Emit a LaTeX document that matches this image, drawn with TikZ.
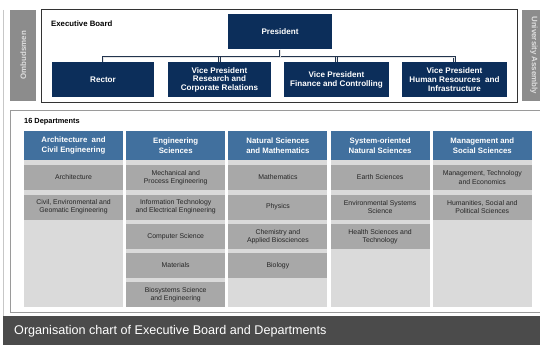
\documentclass[tikz,border=0pt]{standalone}
\usepackage{fontspec}
\setmainfont{Liberation Sans}
\definecolor{navy}{HTML}{0C2E5A}
\definecolor{connc}{HTML}{22344E}
\definecolor{headblue}{HTML}{41709E}
\definecolor{itemgray}{HTML}{A8A8A8}
\definecolor{colgray}{HTML}{DADADA}
\definecolor{sidegray}{HTML}{8C8C8C}
\definecolor{sidetext}{HTML}{DEDEDE}
\definecolor{itemtext}{HTML}{262626}
\definecolor{captiongray}{HTML}{4B4B4B}
\definecolor{framegray}{HTML}{333333}
\definecolor{deptframe}{HTML}{9A9A9A}
\begin{document}
\begin{tikzpicture}[x=1pt,y=-1pt,
  exec/.style={fill=navy, text=white, font=\fontsize{8.1}{8.8}\selectfont\bfseries,
    align=center, minimum height=35pt, inner sep=0pt},
  conn/.style={draw=connc, line width=0.6pt, double=white!90!black, double distance=0.9pt},
  sidebox/.style={fill=sidegray, text=sidetext, font=\fontsize{7.9}{9}\selectfont\bfseries,
    inner sep=0pt, minimum height=25.5pt},
  colbg/.style={fill=colgray, minimum width=99pt, minimum height=176pt, inner sep=0pt},
  head/.style={fill=headblue, text=white, font=\fontsize{7.8}{10}\selectfont\bfseries,
    align=center, minimum width=99pt, minimum height=29pt, inner sep=0pt},
  item/.style={fill=itemgray, text=itemtext, font=\fontsize{6.9}{8.2}\selectfont,
    align=center, minimum width=99pt, minimum height=25pt, inner sep=0pt},
  title/.style={font=\fontsize{7.8}{9}\selectfont\bfseries, anchor=west, inner sep=0pt}]
\useasboundingbox (0,0) rectangle (540,345);
\fill[white] (0,0) rectangle (540,345);

% page edge rule on the left
\draw[color=black!22, line width=0.8pt] (3,10) -- (3,316);

% side panels
\node[sidebox, minimum width=91.5pt, rotate=90] (ombud) at (23.2,55.3) {Ombudsmen};
\node[sidebox, minimum width=91.5pt, rotate=-90, minimum height=24pt] (assembly) at (534,55.3) {University Assembly};

% executive board
\node[draw=framegray, line width=1pt, minimum width=476pt, minimum height=92pt,
      inner sep=0pt] (board) at (279,56) {};
\node[title] (boardtitle) at (51,24) {Executive Board};

\node[exec, minimum width=104pt] (pres) at (280,32) {President};
\node[exec, minimum width=102pt] (rector) at (103,79.8) {Rector};
\node[exec, minimum width=103pt] (vpr) at (219.5,79.8) {Vice President\\Research and\\Corporate Relations};
\node[exec, minimum width=105pt] (vpf) at (336.5,79.8) {Vice President\\Finance and Controlling};
\node[exec, minimum width=105pt] (vph) at (454.5,79.8) {Vice President\\Human Resources\ \ and\\Infrastructure};

\coordinate (bus) at (0,57);
\draw[conn] (rector.north) -- (rector.north |- bus) -- (vph.north |- bus) -- (vph.north);
\draw[conn] (vpr.north) -- (vpr.north |- bus);
\draw[conn] (vpf.north) -- (vpf.north |- bus);
\draw[conn] (pres.south) -- (pres.south |- bus);

% departments
\node[draw=deptframe, line width=1.1pt, minimum width=540pt, minimum height=202pt,
      inner sep=0pt, anchor=north west] (depts) at (10,109.5) {};
\node[title, font=\fontsize{7.4}{9}\selectfont\bfseries] (depttitle) at (24,122) {16 Departments};

% column backgrounds
\node[colbg] (c1) at (73.5,219) {};
\node[colbg] (c2) at (175.7,219) {};
\node[colbg] (c3) at (277.9,219) {};
\node[colbg] (c4) at (380.1,219) {};
\node[colbg] (c5) at (482.3,219) {};

% column heads
\node[head] (h1) at (73.5,145.5) {Architecture\ \ and\\Civil Engineering};
\node[head] (h2) at (175.7,145.5) {Engineering\\Sciences};
\node[head] (h3) at (277.9,145.5) {Natural Sciences\\and Mathematics};
\node[head] (h4) at (380.1,145.5) {System-oriented\\Natural Sciences};
\node[head] (h5) at (482.3,145.5) {Management and\\Social Sciences};

% departments of each column
\node[item] (a1) at (73.5,177.5) {Architecture};
\node[item] (a2) at (73.5,207) {Civil, Environmental and\\Geomatic Engineering};

\node[item] (e1) at (175.7,177.5) {Mechanical and\\Process Engineering};
\node[item] (e2) at (175.7,207) {Information Technology\\and Electrical Engineering};
\node[item] (e3) at (175.7,236.5) {Computer Science};
\node[item] (e4) at (175.7,265.5) {Materials};
\node[item] (e5) at (175.7,294.5) {Biosystems Science\\and Engineering};

\node[item] (n1) at (277.9,177.5) {Mathematics};
\node[item] (n2) at (277.9,207) {Physics};
\node[item] (n3) at (277.9,236.5) {Chemistry and\\Applied Biosciences};
\node[item] (n4) at (277.9,265.5) {Biology};

\node[item] (s1) at (380.1,177.5) {Earth Sciences};
\node[item] (s2) at (380.1,207) {Environmental Systems\\Science};
\node[item] (s3) at (380.1,236.5) {Health Sciences and\\Technology};

\node[item] (m1) at (482.3,177.5) {Management, Technology\\and Economics};
\node[item] (m2) at (482.3,207) {Humanities, Social and\\Political Sciences};

% caption bar
\node[fill=captiongray, minimum width=537pt, minimum height=29pt, inner sep=0pt,
      anchor=north west] (bar) at (3,316) {};
\node[text=white, font=\fontsize{12.6}{14}\selectfont, anchor=west, inner sep=0pt]
  (caption) at (14,331) {Organisation chart of Executive Board and Departments};
\end{tikzpicture}
\end{document}
